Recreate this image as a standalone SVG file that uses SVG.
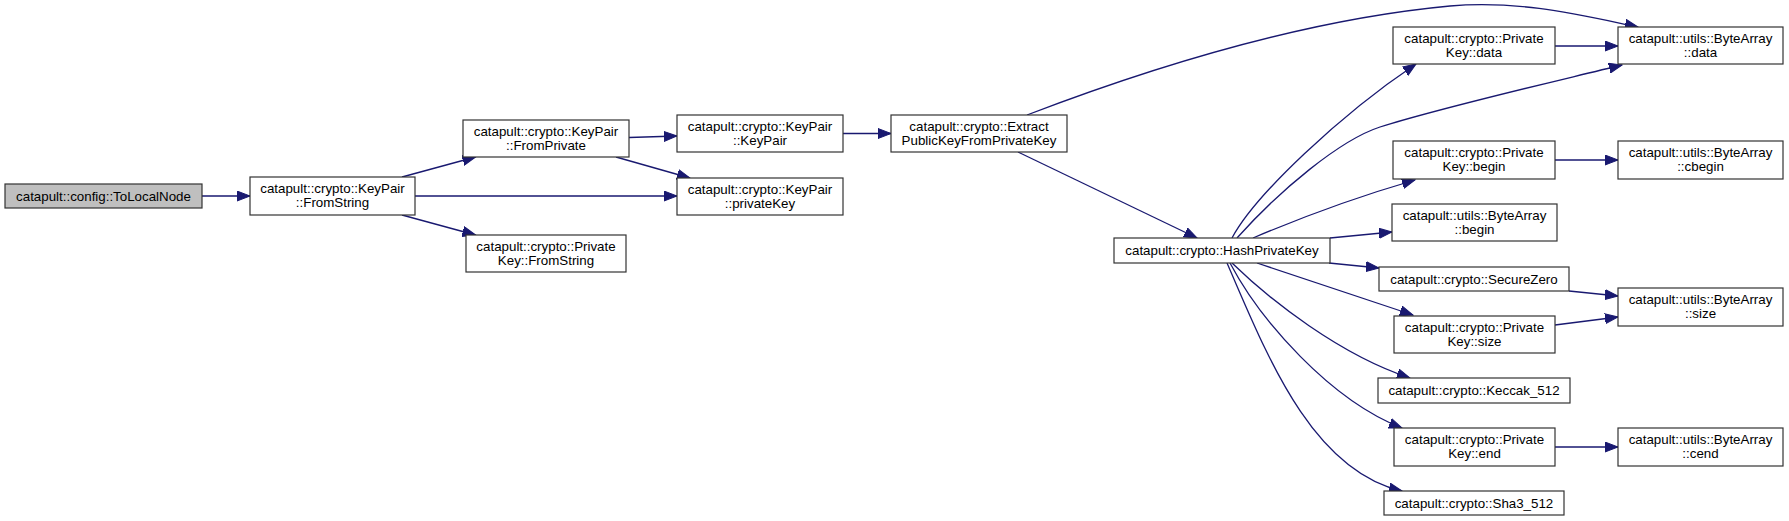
<svg xmlns="http://www.w3.org/2000/svg" width="1789" height="521" viewBox="0 0 1789 521">
<style>
.n rect{fill:#ffffff;stroke:#333333;stroke-width:1.2}
.n.root rect{fill:#bfbfbf}
.n text{font-family:"Liberation Sans",Arial,Helvetica,sans-serif;font-size:13.33px;fill:#000;text-anchor:middle}
.e path{fill:none;stroke:#191970;stroke-width:1.3}
</style>
<defs>
<marker id="ah" markerUnits="userSpaceOnUse" markerWidth="14" markerHeight="11" refX="13" refY="5" orient="auto" viewBox="0 0 14 10">
<path d="M0,0 L13,5 L0,10 z" fill="#191970" stroke="#191970" stroke-width="1"/>
</marker>
</defs>
<rect width="1789" height="521" fill="#ffffff"/>
<g id="connectors" class="e">
<path marker-end="url(#ah)" d="M202,196 L250,196"/>
<path marker-end="url(#ah)" d="M402,177 L475.5,157"/>
<path marker-end="url(#ah)" d="M415,196 L677,196"/>
<path marker-end="url(#ah)" d="M402,215 L475.5,235"/>
<path marker-end="url(#ah)" d="M629,137.5 L677,136"/>
<path marker-end="url(#ah)" d="M616,157 L690,178"/>
<path marker-end="url(#ah)" d="M843,133.5 L891,133.5"/>
<path marker-end="url(#ah)" d="M1027,115 C1150,68 1300,20 1450,6 C1520,0 1580,15 1638,27"/>
<path marker-end="url(#ah)" d="M1018,152 L1197,238"/>
<path marker-end="url(#ah)" d="M1232,238 C1255,195 1340,115 1416,64"/>
<path marker-end="url(#ah)" d="M1237,238 C1280,190 1340,140 1380,127 C1440,108 1540,85 1622,65"/>
<path marker-end="url(#ah)" d="M1253,238 C1300,218 1360,196 1415,180"/>
<path marker-end="url(#ah)" d="M1330,238 L1392,232"/>
<path marker-end="url(#ah)" d="M1329,263 L1379,268"/>
<path marker-end="url(#ah)" d="M1257,263 L1413,315"/>
<path marker-end="url(#ah)" d="M1232,263 C1270,300 1340,355 1410,378"/>
<path marker-end="url(#ah)" d="M1230,263 C1260,320 1330,400 1402,428"/>
<path marker-end="url(#ah)" d="M1227,263 C1265,350 1310,470 1402,491"/>
<path marker-end="url(#ah)" d="M1555,46 L1618,46"/>
<path marker-end="url(#ah)" d="M1555,160 L1618,160"/>
<path marker-end="url(#ah)" d="M1569,291 L1618,296"/>
<path marker-end="url(#ah)" d="M1555,325 L1618,317"/>
<path marker-end="url(#ah)" d="M1555,447 L1618,447"/>
</g>
<g id="node1" class="n root"><rect x="5" y="184" width="197" height="24"/><text x="103.5" y="200.5">catapult::config::ToLocalNode</text></g>
<g id="node2" class="n"><rect x="250" y="177" width="165" height="38"/><text x="332.5" y="193">catapult::crypto::KeyPair</text><text x="332.5" y="207">::FromString</text></g>
<g id="node3" class="n"><rect x="463" y="120" width="166" height="37"/><text x="546" y="136">catapult::crypto::KeyPair</text><text x="546" y="150">::FromPrivate</text></g>
<g id="node4" class="n"><rect x="466" y="235" width="160" height="37"/><text x="546" y="251">catapult::crypto::Private</text><text x="546" y="265">Key::FromString</text></g>
<g id="node5" class="n"><rect x="677" y="115" width="166" height="37"/><text x="760" y="131">catapult::crypto::KeyPair</text><text x="760" y="145">::KeyPair</text></g>
<g id="node6" class="n"><rect x="677" y="178" width="166" height="37"/><text x="760" y="194">catapult::crypto::KeyPair</text><text x="760" y="208">::privateKey</text></g>
<g id="node7" class="n"><rect x="891" y="115" width="176" height="37"/><text x="979" y="131">catapult::crypto::Extract</text><text x="979" y="145">PublicKeyFromPrivateKey</text></g>
<g id="node8" class="n"><rect x="1114" y="238" width="216" height="25"/><text x="1222" y="255">catapult::crypto::HashPrivateKey</text></g>
<g id="node9" class="n"><rect x="1393" y="27" width="162" height="37"/><text x="1474" y="43">catapult::crypto::Private</text><text x="1474" y="57">Key::data</text></g>
<g id="node10" class="n"><rect x="1618" y="27" width="165" height="37"/><text x="1700.5" y="43">catapult::utils::ByteArray</text><text x="1700.5" y="57">::data</text></g>
<g id="node11" class="n"><rect x="1393" y="141" width="162" height="38"/><text x="1474" y="157">catapult::crypto::Private</text><text x="1474" y="171">Key::begin</text></g>
<g id="node12" class="n"><rect x="1618" y="141" width="165" height="38"/><text x="1700.5" y="157">catapult::utils::ByteArray</text><text x="1700.5" y="171">::cbegin</text></g>
<g id="node13" class="n"><rect x="1392" y="204" width="165" height="37"/><text x="1474.5" y="220">catapult::utils::ByteArray</text><text x="1474.5" y="234">::begin</text></g>
<g id="node14" class="n"><rect x="1379" y="267" width="190" height="24"/><text x="1474" y="283.5">catapult::crypto::SecureZero</text></g>
<g id="node15" class="n"><rect x="1618" y="288" width="165" height="38"/><text x="1700.5" y="304">catapult::utils::ByteArray</text><text x="1700.5" y="318">::size</text></g>
<g id="node16" class="n"><rect x="1394" y="316" width="161" height="37"/><text x="1474.5" y="332">catapult::crypto::Private</text><text x="1474.5" y="346">Key::size</text></g>
<g id="node17" class="n"><rect x="1378" y="378" width="192" height="25"/><text x="1474" y="395">catapult::crypto::Keccak_512</text></g>
<g id="node18" class="n"><rect x="1394" y="428" width="161" height="38"/><text x="1474.5" y="444">catapult::crypto::Private</text><text x="1474.5" y="458">Key::end</text></g>
<g id="node19" class="n"><rect x="1618" y="428" width="165" height="38"/><text x="1700.5" y="444">catapult::utils::ByteArray</text><text x="1700.5" y="458">::cend</text></g>
<g id="node20" class="n"><rect x="1384" y="491" width="180" height="24"/><text x="1474" y="507.5">catapult::crypto::Sha3_512</text></g>
</svg>
